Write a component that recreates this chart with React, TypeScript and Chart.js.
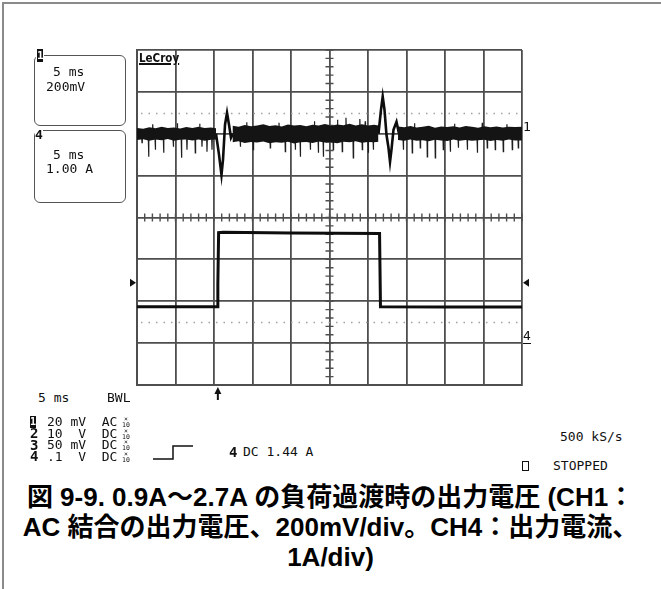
import React, { useEffect, useRef } from "react";
import { Chart, registerables } from "chart.js";

Chart.register(...registerables);

// ---- scope settings ----
const timeRangeMs = [0, 50]; // 5 ms/div, 10 div
const timePerDivMs = 5;
const ch1RangeMv = [-1200, 400]; // 200 mV/div, CH1 ground 2 div below top
const ch1PerDivMv = 200;
const ch4RangeA = [-1, 7]; // 1 A/div, CH4 ground 1 div above bottom
const triggerTimeMs = 10.5;
const triggerLevelA = 1.44;
const cursorLevelsMv = [100, -900];

// ---- CH1: output voltage (AC) noise band envelope ----
const bandTime = [
  0, 0.8, 1.6, 2.4, 3.2, 4.0, 4.8, 5.6, 6.4, 7.2, 8.0, 8.8, 9.6, 10.26, 10.3,
  12.4, 13.2, 14.0, 14.8, 15.6, 16.4, 17.2, 18.0, 18.8, 19.6, 20.4, 21.2, 22.0, 22.8, 23.6, 24.4, 25.2, 26.0, 26.8, 27.6, 28.4, 29.2, 30.0, 30.8, 31.36, 31.4,
  33.9, 34.7, 35.5, 36.3, 37.1, 37.9, 38.7, 39.5, 40.3, 41.1, 41.9, 42.7, 43.5, 44.3, 45.1, 45.9, 46.7, 47.5, 48.3, 49.1, 50,
];
const bandUpperMv = [
  28, 24, 31, 26, 33, 27, 30, 25, 32, 28, 34, 27, 30, 26, null,
  38, 33, 42, 36, 40, 45, 37, 41, 35, 44, 39, 42, 36, 43, 40, 46, 38, 44, 41, 48, 39, 45, 40, 43, 40, null,
  35, 31, 37, 30, 34, 38, 29, 35, 32, 36, 30, 37, 33, 29, 36, 31, 35, 30, 34, 32, 33,
];
const bandLowerMv = [
  -30, -26, -33, -28, -31, -25, -34, -29, -27, -32, -28, -33, -29, -28, null,
  -40, -36, -44, -39, -42, -37, -45, -40, -43, -38, -46, -41, -39, -44, -37, -42, -40, -45, -38, -41, -36, -43, -39, -40, -38, null,
  -30, -34, -28, -33, -31, -36, -29, -32, -35, -28, -33, -30, -34, -31, -29, -35, -30, -33, -28, -32, -32,
];

// ---- CH1 noise spikes ----
const spikeTime = [
  0.61, 1.47, 2.34, 3.42, 4.68, 5.74, 6.45, 7.53, 8.4, 9.05, 9.7,
  13.38, 15.06, 17.27, 19.22, 20.52, 21.17, 22.47, 23.51, 24.16, 25.45, 26.62, 28.05, 29.22, 30.0, 30.65,
  34.55, 35.71, 36.75, 37.66, 38.7, 39.74, 40.65, 41.69, 42.86, 44.16, 45.45, 46.49, 47.53, 48.7, 49.48,
];
const spikeMv = [
  -43, -110, -76, -91, -62, -115, -76, -91, -62, -86, -76,
  -62, -76, -67, -86, -76, -110, -76, -91, -110, -76, -86, -115, -76, -91, -76,
  -76, -91, -67, -110, -115, -76, -86, -67, -76, -91, -67, -76, -86, -76, -67,
];
const upSpikeTime = [2.0, 5.2, 8.1, 14.2, 18.4, 23.0, 26.0, 27.1, 28.9, 29.6, 36.0, 41.2, 44.8, 48.0];
const upSpikeMv = [45, 50, 48, 55, 52, 60, 67, 76, 70, 60, 50, 48, 52, 45];

// ---- CH1 load-step transients ----
const step1Time = [10.26, 10.65, 10.97, 11.17, 11.43, 11.69, 11.95, 12.21, 12.47];
const step1Mv = [0, -100, -196, -124, 43, 100, 43, -19, 0];
const step2Time = [31.36, 31.69, 31.91, 32.14, 32.4, 32.66, 32.86, 33.05, 33.31, 33.7, 34.03];
const step2Mv = [0, 115, 177, 115, -5, -67, -134, -76, 19, 57, 0];

// ---- CH4: output current ----
const ch4Time = [0, 10.4, 10.5, 10.6, 11.2, 20, 31.5, 31.62, 40, 50];
const ch4Amp = [0.87, 0.87, 1.4, 2.64, 2.65, 2.63, 2.62, 0.87, 0.86, 0.86];

const pts = (xs: number[], ys: (number | null)[]) => xs.map((x, i) => ({ x, y: ys[i] }));

function spikePoints(times: number[], values: number[], base: number) {
  const out: { x: number; y: number | null }[] = [];
  times.forEach((t, i) => {
    if (i > 0 && t - times[i - 1] > 2.5) out.push({ x: (t + times[i - 1]) / 2, y: null });
    out.push({ x: t, y: base });
    out.push({ x: t + 0.04, y: values[i] });
    out.push({ x: t + 0.08, y: base });
  });
  return out;
}

const GRID = "#4e4e4e";

const scopePlugin = {
  id: "scopeDecor",
  beforeDatasetsDraw(chart: any) {
    const { ctx, chartArea: a, scales } = chart;
    const x = scales.x;
    const y = scales.y;
    ctx.save();
    ctx.strokeStyle = "#a0a0a0";
    ctx.lineWidth = 1.5;
    ctx.setLineDash([1.5, 6]);
    for (const lv of cursorLevelsMv) {
      const py = Math.round(y.getPixelForValue(lv)) + 0.5;
      ctx.beginPath();
      ctx.moveTo(a.left + 4, py);
      ctx.lineTo(a.right - 4, py);
      ctx.stroke();
    }
    ctx.setLineDash([]);
    ctx.strokeStyle = GRID;
    ctx.lineWidth = 1.4;
    const cx = x.getPixelForValue((timeRangeMs[0] + timeRangeMs[1]) / 2);
    const cy = y.getPixelForValue((ch1RangeMv[0] + ch1RangeMv[1]) / 2);
    ctx.beginPath();
    for (let t = timeRangeMs[0]; t <= timeRangeMs[1] + 1e-6; t += timePerDivMs / 5) {
      const px = x.getPixelForValue(t);
      ctx.moveTo(px, cy - 4);
      ctx.lineTo(px, cy + 4);
    }
    for (let v = ch1RangeMv[0]; v <= ch1RangeMv[1] + 1e-6; v += ch1PerDivMv / 5) {
      const py = y.getPixelForValue(v);
      ctx.moveTo(cx - 4, py);
      ctx.lineTo(cx + 4, py);
    }
    ctx.stroke();
    ctx.restore();
  },
  afterDraw(chart: any) {
    const { ctx, chartArea: a, scales } = chart;
    const py = scales.y4.getPixelForValue(triggerLevelA);
    ctx.save();
    ctx.fillStyle = "#111";
    ctx.beginPath();
    ctx.moveTo(a.left - 7, py - 4);
    ctx.lineTo(a.left - 1, py);
    ctx.lineTo(a.left - 7, py + 4);
    ctx.closePath();
    ctx.fill();
    ctx.beginPath();
    ctx.moveTo(a.right + 7, py - 4);
    ctx.lineTo(a.right + 1, py);
    ctx.lineTo(a.right + 7, py + 4);
    ctx.closePath();
    ctx.fill();
    const px = scales.x.getPixelForValue(triggerTimeMs);
    ctx.strokeStyle = "#111";
    ctx.lineWidth = 2;
    ctx.beginPath();
    ctx.moveTo(px, a.bottom + 7);
    ctx.lineTo(px, a.bottom + 15);
    ctx.stroke();
    ctx.beginPath();
    ctx.moveTo(px - 3.5, a.bottom + 9);
    ctx.lineTo(px, a.bottom + 2);
    ctx.lineTo(px + 3.5, a.bottom + 9);
    ctx.closePath();
    ctx.fill();
    ctx.restore();
  },
};

const Txt = ({ x, yc, size = 13, bold = false, children, style = {} }: any) => (
  <div
    style={{
      position: "absolute",
      left: x,
      top: yc - size * 0.53,
      fontSize: size,
      lineHeight: `${size * 1.1}px`,
      fontWeight: bold ? "bold" : "normal",
      whiteSpace: "pre",
      ...style,
    }}
  >
    {children}
  </div>
);

const Probe = ({ x, yc }: any) => (
  <div style={{ position: "absolute", left: x, top: yc - 6, fontSize: 6.5, lineHeight: "6px", textAlign: "center", width: 8 }}>
    ×<br />10
  </div>
);

export default function App() {
  const ref = useRef<HTMLCanvasElement>(null);
  useEffect(() => {
    if (!ref.current) return;
    const chart = new Chart(ref.current, {
      type: "scatter",
      data: {
        datasets: [
          {
            label: "CH1 band upper",
            data: pts(bandTime, bandUpperMv),
            showLine: true,
            borderColor: "rgba(0,0,0,0)",
            borderWidth: 0,
            pointRadius: 0,
            yAxisID: "y",
            fill: false,
          },
          {
            label: "CH1 band lower",
            data: pts(bandTime, bandLowerMv),
            showLine: true,
            borderColor: "rgba(0,0,0,0)",
            borderWidth: 0,
            backgroundColor: "#141414",
            pointRadius: 0,
            yAxisID: "y",
            fill: "-1",
          },
          {
            label: "CH1 spikes",
            data: spikePoints(spikeTime, spikeMv, -20),
            showLine: true,
            borderColor: "#1e1e1e",
            borderWidth: 1.2,
            pointRadius: 0,
            yAxisID: "y",
          },
          {
            label: "CH1 up spikes",
            data: spikePoints(upSpikeTime, upSpikeMv, 20),
            showLine: true,
            borderColor: "#1e1e1e",
            borderWidth: 1.2,
            pointRadius: 0,
            yAxisID: "y",
          },
          {
            label: "CH1 step up",
            data: pts(step1Time, step1Mv),
            showLine: true,
            borderColor: "#0d0d0d",
            borderWidth: 2.6,
            pointRadius: 0,
            yAxisID: "y",
          },
          {
            label: "CH1 step down",
            data: pts(step2Time, step2Mv),
            showLine: true,
            borderColor: "#0d0d0d",
            borderWidth: 2.6,
            pointRadius: 0,
            yAxisID: "y",
          },
          {
            label: "CH4",
            data: pts(ch4Time, ch4Amp),
            showLine: true,
            borderColor: "#0d0d0d",
            borderWidth: 3,
            pointRadius: 0,
            yAxisID: "y4",
          },
        ],
      },
      options: {
        animation: false,
        responsive: true,
        maintainAspectRatio: false,
        layout: { padding: { left: 37, top: 20, right: 38, bottom: 25 } },
        plugins: { legend: { display: false }, tooltip: { enabled: false } },
        scales: {
          x: {
            type: "linear",
            min: timeRangeMs[0],
            max: timeRangeMs[1],
            ticks: { stepSize: timePerDivMs, display: false },
            grid: { color: GRID, lineWidth: 1.8, drawTicks: false },
            border: { color: GRID, width: 2 },
          },
          y: {
            type: "linear",
            min: ch1RangeMv[0],
            max: ch1RangeMv[1],
            ticks: { stepSize: ch1PerDivMv, display: false },
            grid: { color: GRID, lineWidth: 1.8, drawTicks: false },
            border: { color: GRID, width: 2 },
          },
          y4: {
            type: "linear",
            display: false,
            min: ch4RangeA[0],
            max: ch4RangeA[1],
          },
        },
      },
      plugins: [scopePlugin],
    } as any);
    return () => chart.destroy();
  }, []);

  const captionStyle: any = {
    position: "absolute",
    left: 0,
    width: 661,
    textAlign: "center",
    fontFamily: '"Liberation Sans", "Noto Sans CJK JP", sans-serif',
    fontWeight: "bold",
    fontSize: 26,
    lineHeight: "30px",
    whiteSpace: "nowrap",
    color: "#000",
  };

  return (
    <div
      style={{
        position: "absolute",
        left: 0,
        top: 0,
        width: 661,
        height: 589,
        overflow: "hidden",
        background: "#fff",
        color: "#111",
        fontFamily: '"DejaVu Sans Mono", monospace',
      }}
    >
      <div style={{ position: "absolute", left: 2, top: 2, width: 2, height: 587, background: "#8a8a8a" }} />
      <div style={{ position: "absolute", left: 2, top: 2, width: 659, height: 2, background: "#8a8a8a" }} />

      <div style={{ position: "absolute", left: 100, top: 30, width: 460, height: 380 }}>
        <canvas ref={ref} />
      </div>

      {/* LeCroy logo */}
      <div
        style={{
          position: "absolute",
          left: 139,
          top: 52,
          fontFamily: '"DejaVu Sans Condensed", sans-serif',
          fontWeight: "bold",
          fontSize: 11.5,
          lineHeight: "12px",
          textDecoration: "underline",
          textDecorationThickness: "1.5px",
        }}
      >
        LeCroy
      </div>

      {/* channel boxes */}
      <div style={{ position: "absolute", left: 34, top: 55, width: 92, height: 71, border: "1.5px solid #555", borderRadius: 6, boxSizing: "border-box" }} />
      <div style={{ position: "absolute", left: 36, top: 48, width: 8, height: 15, background: "#fff" }} />
      <div style={{ position: "absolute", left: 37, top: 49, width: 6, height: 13, background: "#111", color: "#fff", fontSize: 11, lineHeight: "13px", textAlign: "center", fontWeight: "bold" }}>1</div>
      <Txt x={53} yc={72}>5 ms</Txt>
      <Txt x={46} yc={87}>200mV</Txt>

      <div style={{ position: "absolute", left: 34, top: 130, width: 92, height: 73, border: "1.5px solid #555", borderRadius: 6, boxSizing: "border-box" }} />
      <div style={{ position: "absolute", left: 35, top: 127, width: 8, height: 14, background: "#fff" }} />
      <Txt x={35} yc={135} size={13} bold>4</Txt>
      <Txt x={53} yc={155}>5 ms</Txt>
      <Txt x={46} yc={169}>1.00 A</Txt>

      {/* right side channel markers */}
      <Txt x={523} yc={127}>1</Txt>
      <Txt x={523} yc={336} style={{ borderBottom: "1.5px solid #111", width: 8 }}>4</Txt>

      {/* bottom-left settings */}
      <Txt x={38} yc={398}>5 ms</Txt>
      <Txt x={107} yc={398}>BWL</Txt>
      <div style={{ position: "absolute", left: 30, top: 416, width: 6, height: 12, background: "#111", color: "#fff", fontSize: 10, lineHeight: "12px", textAlign: "center", fontWeight: "bold" }}>1</div>
      <Txt x={30} yc={433.5} size={14} bold>2</Txt>
      <Txt x={30} yc={445} size={14} bold>3</Txt>
      <Txt x={30} yc={456.5} size={14} bold>4</Txt>
      <Txt x={47} yc={422}>20 mV  AC</Txt>
      <Txt x={47} yc={433.5}>10  V  DC</Txt>
      <Txt x={47} yc={445}>50 mV  DC</Txt>
      <Txt x={47} yc={456.5}>.1  V  DC</Txt>
      <Probe x={122} yc={422} />
      <Probe x={122} yc={433.5} />
      <Probe x={122} yc={445} />
      <Probe x={122} yc={456.5} />

      {/* trigger info */}
      <svg style={{ position: "absolute", left: 150, top: 442 }} width={46} height={20}>
        <polyline points="3,17 23,17 23,4 43,4" fill="none" stroke="#111" strokeWidth={1.5} />
      </svg>
      <Txt x={229} yc={452} size={14} bold>4</Txt>
      <Txt x={243} yc={452}>DC 1.44 A</Txt>

      <Txt x={560} yc={437}>500 kS/s</Txt>
      <div style={{ position: "absolute", left: 522, top: 461, width: 7, height: 10, border: "1.5px solid #111", boxSizing: "border-box" }} />
      <Txt x={553} yc={466}>STOPPED</Txt>

      {/* caption */}
      <div style={{ ...captionStyle, top: 482 }}>図 9-9. 0.9A～2.7A の負荷過渡時の出力電圧 (CH1：</div>
      <div style={{ ...captionStyle, top: 512 }}>AC 結合の出力電圧、200mV/div。CH4：出力電流、</div>
      <div style={{ ...captionStyle, top: 542 }}>1A/div)</div>
    </div>
  );
}
